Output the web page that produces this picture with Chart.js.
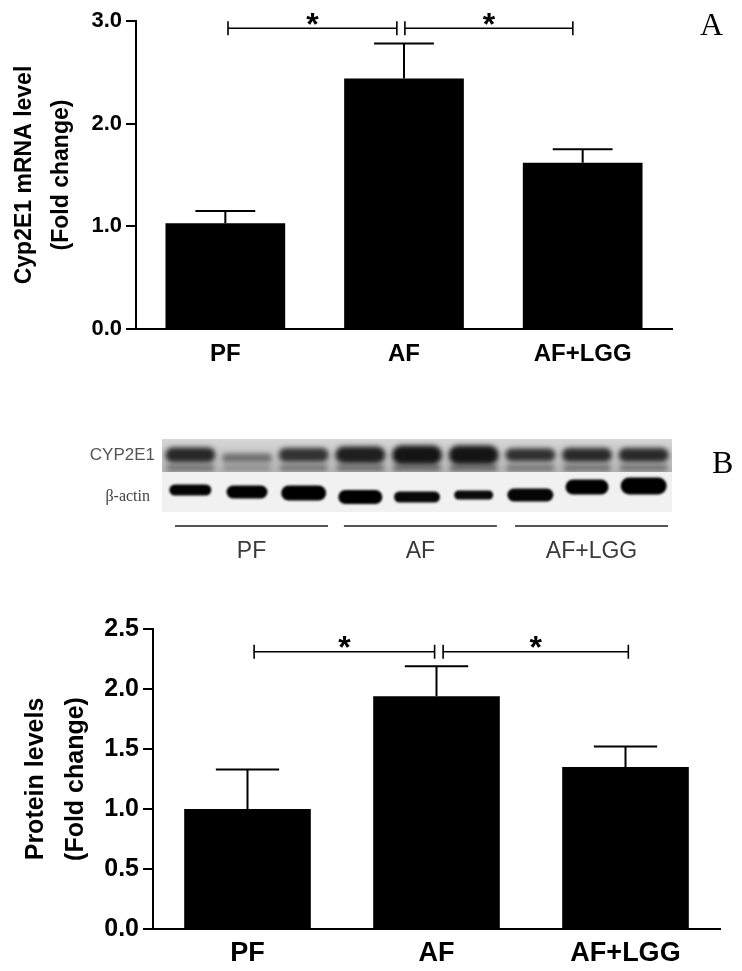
<!DOCTYPE html>
<html>
<head>
<meta charset="utf-8">
<script src="https://cdn.jsdelivr.net/npm/chart.js@4.4.0/dist/chart.umd.min.js"></script>
<style>
body { margin: 0; background: #fff; }
#wrap { position: relative; width: 742px; height: 971px; }
canvas { position: absolute; left: 0; }
.letter { position: absolute; font-family: "Liberation Serif", "Times New Roman", serif; font-size: 32px; line-height: 1; color: #000; }
</style>
</head>
<body>
<div id="wrap">
  <canvas id="mrnaChart" width="742" height="385" style="top:0px"></canvas>
  <canvas id="blotChart" width="742" height="140" style="top:430px"></canvas>
  <canvas id="proteinChart" width="742" height="371" style="top:600px"></canvas>
  <div class="letter" style="left:700px;top:8px">A</div>
  <div class="letter" style="left:712px;top:446px">B</div>
</div>
<script>
var groups = ['PF', 'AF', 'AF+LGG'];

// A - Cyp2E1 mRNA, fold change (mean and SEM)
var mrnaMean = [1.03, 2.44, 1.62];
var mrnaSem = [0.12, 0.34, 0.13];
var mrnaSig = [[0.015, 0.96], [1.005, 1.945]];
var mrnaSigLevel = 2.93;

// B - protein levels, fold change
var proteinMean = [1.0, 1.94, 1.35];
var proteinSem = [0.33, 0.25, 0.17];
var proteinSig = [[0.035, 0.99], [1.035, 2.015]];
var proteinSigLevel = 2.31;

// western blot lanes (3 per group), relative band density
var lanes = ['1', '2', '3', '4', '5', '6', '7', '8', '9'];
var cypBand = [0.85, 0.4, 0.78, 0.9, 0.97, 0.97, 0.8, 0.84, 0.84];
var actinBand = [0.95, 0.97, 1, 1, 0.85, 0.8, 0.9, 1, 1];
var laneGroups = [[-0.27, 2.43], [2.71, 5.41], [5.73, 8.43]];

// band shapes (style only)
var cypThick = [15, 9, 14, 17, 19, 19, 13, 14, 14];
var actinWidth = [42, 41, 45, 44, 46, 39, 46, 43, 46];
var actinThick = [11, 13, 15, 14, 11, 9, 13, 15, 17];
var actinDy = [-3, -1, 0, 4, 4, 2, 2, -6, -7];

var sans = '"Liberation Sans", Arial, sans-serif';
Chart.defaults.font.family = sans;

function errorAndSig(mean, sem, sig, level, starSize, starDrop) {
    return {
        id: 'errorAndSig',
        afterDatasetsDraw: function (chart) {
            var ctx = chart.ctx, xs = chart.scales.x, ys = chart.scales.y;
            var meta = chart.getDatasetMeta(0);
            ctx.save();
            ctx.strokeStyle = '#000';
            ctx.lineWidth = 2;
            meta.data.forEach(function (bar, i) {
                var top = ys.getPixelForValue(mean[i] + sem[i]);
                var half = bar.width * 0.25;
                ctx.beginPath();
                ctx.moveTo(bar.x, bar.y);
                ctx.lineTo(bar.x, top);
                ctx.moveTo(bar.x - half, top);
                ctx.lineTo(bar.x + half, top);
                ctx.stroke();
            });
            var ly = ys.getPixelForValue(level);
            ctx.lineWidth = 1.6;
            ctx.fillStyle = '#000';
            ctx.font = 'bold ' + starSize + 'px ' + sans;
            ctx.textAlign = 'center';
            ctx.textBaseline = 'alphabetic';
            sig.forEach(function (p) {
                var x1 = xs.getPixelForValue(p[0]), x2 = xs.getPixelForValue(p[1]);
                ctx.beginPath();
                ctx.moveTo(x1, ly); ctx.lineTo(x2, ly);
                ctx.moveTo(x1, ly - 7); ctx.lineTo(x1, ly + 7);
                ctx.moveTo(x2, ly - 7); ctx.lineTo(x2, ly + 7);
                ctx.stroke();
                ctx.fillText('*', (x1 + x2) / 2, ly + starDrop);
            });
            ctx.restore();
        }
    };
}

var ctx1 = document.getElementById('mrnaChart').getContext('2d');
var mrnaChart = new Chart(ctx1, {
    type: 'bar',
    data: {
        labels: groups,
        datasets: [{
            data: mrnaMean,
            backgroundColor: '#000',
            borderWidth: 0,
            categoryPercentage: 1,
            barPercentage: 0.67
        }]
    },
    options: {
        responsive: false,
        animation: false,
        layout: { padding: { top: 21, right: 70, left: 0, bottom: 0 } },
        plugins: { legend: { display: false }, tooltip: { enabled: false } },
        scales: {
            x: {
                ticks: { color: '#000', font: { size: 24, weight: 'bold' }, padding: 11 },
                grid: { display: false, drawTicks: false },
                border: { display: true, color: '#000', width: 2 },
                afterFit: function (s) { s.height = 56; }
            },
            y: {
                min: 0,
                max: 3,
                ticks: {
                    stepSize: 1,
                    color: '#000',
                    padding: 4,
                    font: { size: 22, weight: 'bold' },
                    callback: function (v) { return v.toFixed(1); }
                },
                grid: { drawOnChartArea: false, drawTicks: true, tickLength: 10, color: '#000', lineWidth: 2 },
                border: { display: true, color: '#000', width: 2 },
                title: {
                    display: true,
                    text: ['Cyp2E1 mRNA level', '(Fold change)'],
                    color: '#000',
                    font: { size: 23, weight: 'bold', lineHeight: 1.6 },
                    padding: { top: 6, bottom: 0 }
                },
                afterFit: function (s) { s.width = 136; }
            }
        }
    },
    plugins: [errorAndSig(mrnaMean, mrnaSem, mrnaSig, mrnaSigLevel, 32, 7)]
});

function band(ctx, cx, cy, w, h) {
    ctx.beginPath();
    if (ctx.roundRect) {
        ctx.roundRect(cx - w / 2, cy - h / 2, w, h, h / 2);
    } else {
        ctx.ellipse(cx, cy, w / 2, h / 2, 0, 0, Math.PI * 2);
    }
    ctx.fill();
}

var blotPlugin = {
    id: 'blot',
    afterDraw: function (chart) {
        var ctx = chart.ctx, a = chart.chartArea, xs = chart.scales.x;
        var w = a.right - a.left;
        var split = a.top + 33;
        ctx.save();
        var bg = ctx.createLinearGradient(0, a.top, 0, split);
        bg.addColorStop(0, '#d6d6d6');
        bg.addColorStop(1, '#b4b4b4');
        ctx.fillStyle = bg;
        ctx.fillRect(a.left, a.top, w, 33);
        ctx.fillStyle = '#f1f1f1';
        ctx.fillRect(a.left, split, w, a.bottom - split);

        ctx.save();
        ctx.beginPath();
        ctx.rect(a.left, a.top, w, 33);
        ctx.clip();
        ctx.filter = 'blur(2.5px)';
        cypBand.forEach(function (d, i) {
            var cx = xs.getPixelForValue(i);
            var g2 = Math.round(170 - 70 * d);
            ctx.fillStyle = 'rgb(' + g2 + ',' + g2 + ',' + g2 + ')';
            band(ctx, cx, a.top + 29, 48, 6);
            var g = Math.round(175 - 160 * d);
            ctx.fillStyle = 'rgb(' + g + ',' + g + ',' + g + ')';
            band(ctx, cx, a.top + 16 + (d < 0.5 ? 3 : 0), 50, cypThick[i]);
        });
        ctx.restore();

        ctx.save();
        ctx.filter = 'blur(1.2px)';
        actinBand.forEach(function (d, i) {
            var cx = xs.getPixelForValue(i);
            var g = Math.round(50 - 50 * d);
            ctx.fillStyle = 'rgb(' + g + ',' + g + ',' + g + ')';
            band(ctx, cx, a.top + 54 + actinDy[i], actinWidth[i], actinThick[i]);
        });
        ctx.restore();

        ctx.fillStyle = '#555';
        ctx.textAlign = 'right';
        ctx.textBaseline = 'middle';
        ctx.font = '17px "Liberation Sans Narrow", ' + sans;
        ctx.fillText('CYP2E1', a.left - 7, a.top + 16);
        ctx.fillStyle = '#444';
        ctx.font = '16px "Liberation Serif", serif';
        ctx.fillText('\u03B2-actin', a.left - 12, a.top + 58);

        ctx.strokeStyle = '#555';
        ctx.lineWidth = 2;
        ctx.fillStyle = '#3a3a3a';
        ctx.textAlign = 'center';
        ctx.font = '23px ' + sans;
        laneGroups.forEach(function (g, k) {
            var x1 = xs.getPixelForValue(g[0]), x2 = xs.getPixelForValue(g[1]);
            ctx.beginPath();
            ctx.moveTo(x1, a.bottom + 14);
            ctx.lineTo(x2, a.bottom + 14);
            ctx.stroke();
            ctx.fillText(groups[k], (x1 + x2) / 2, a.bottom + 40);
        });
        ctx.restore();
    }
};

var ctxB = document.getElementById('blotChart').getContext('2d');
var blotChart = new Chart(ctxB, {
    type: 'bar',
    data: { labels: lanes, datasets: [] },
    options: {
        responsive: false,
        animation: false,
        layout: { padding: { top: 9, right: 70, left: 162, bottom: 58 } },
        plugins: { legend: { display: false }, tooltip: { enabled: false } },
        scales: {
            x: { type: 'category', offset: true, display: false },
            y: { type: 'linear', min: 0, max: 1, display: false }
        }
    },
    plugins: [blotPlugin]
});

var ctx2 = document.getElementById('proteinChart').getContext('2d');
var proteinChart = new Chart(ctx2, {
    type: 'bar',
    data: {
        labels: groups,
        datasets: [{
            data: proteinMean,
            backgroundColor: '#000',
            borderWidth: 0,
            categoryPercentage: 1,
            barPercentage: 0.67
        }]
    },
    options: {
        responsive: false,
        animation: false,
        layout: { padding: { top: 29, right: 22, left: 0, bottom: 0 } },
        plugins: { legend: { display: false }, tooltip: { enabled: false } },
        scales: {
            x: {
                ticks: { color: '#000', font: { size: 27, weight: 'bold' }, padding: 8 },
                grid: { display: false, drawTicks: false },
                border: { display: true, color: '#000', width: 2 },
                afterFit: function (s) { s.height = 42; }
            },
            y: {
                min: 0,
                max: 2.5,
                ticks: {
                    stepSize: 0.5,
                    color: '#000',
                    padding: 4,
                    font: { size: 25, weight: 'bold' },
                    callback: function (v) { return v.toFixed(1); }
                },
                grid: { drawOnChartArea: false, drawTicks: true, tickLength: 10, color: '#000', lineWidth: 2 },
                border: { display: true, color: '#000', width: 2 },
                title: {
                    display: true,
                    text: ['Protein levels', '(Fold change)'],
                    color: '#000',
                    font: { size: 25, weight: 'bold', lineHeight: 1.6 },
                    padding: { top: 16, bottom: 0 }
                },
                afterFit: function (s) { s.width = 153; }
            }
        }
    },
    plugins: [errorAndSig(proteinMean, proteinSem, proteinSig, proteinSigLevel, 32, 6)]
});
</script>
</body>
</html>
